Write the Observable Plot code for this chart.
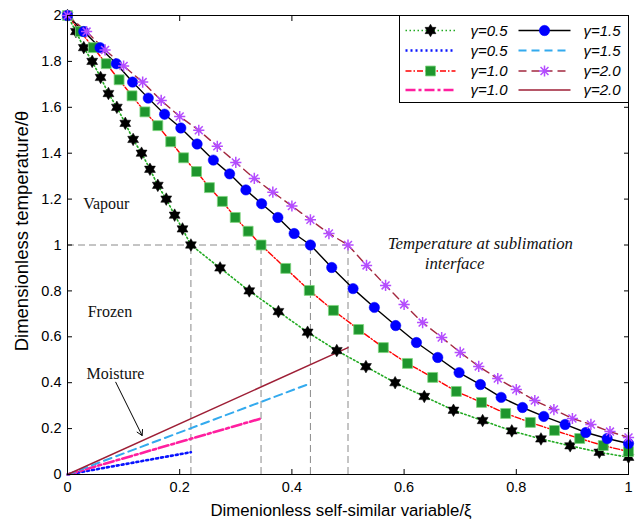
<!DOCTYPE html>
<html>
<head>
<meta charset="utf-8">
<script src="https://cdn.jsdelivr.net/npm/d3@7"></script>
<script src="https://cdn.jsdelivr.net/npm/@observablehq/plot@0.6"></script>
<style>
  body { margin: 0; background: #fff; }
  #wrap { position: relative; width: 636px; height: 522px; }
</style>
</head>
<body>
<div id="wrap"></div>
<script>
// ---- data ----
const gammas = ["0.5", "1.0", "1.5", "2.0"];

const xi05 = [0, 0.015, 0.029, 0.044, 0.059, 0.073, 0.088, 0.103, 0.117, 0.132, 0.147, 0.161, 0.176, 0.191, 0.205, 0.22,
              0.272, 0.324, 0.376, 0.428, 0.48, 0.532, 0.584, 0.636, 0.688, 0.74, 0.792, 0.844, 0.896, 0.948, 1.0];
const th05 = [2.0, 1.93, 1.86, 1.80, 1.73, 1.66, 1.60, 1.53, 1.46, 1.40, 1.33, 1.26, 1.20, 1.13, 1.07, 1.0,
              0.90, 0.80, 0.71, 0.62, 0.54, 0.47, 0.40, 0.34, 0.28, 0.235, 0.19, 0.155, 0.125, 0.097, 0.075];

const xi10 = [0, 0.023, 0.046, 0.069, 0.092, 0.115, 0.138, 0.161, 0.184, 0.207, 0.23, 0.253, 0.276, 0.299, 0.322, 0.345,
              0.389, 0.431, 0.474, 0.519, 0.563, 0.606, 0.651, 0.693, 0.738, 0.781, 0.825, 0.868, 0.913, 0.955, 1.0];
const th10 = [2.0, 1.93, 1.86, 1.79, 1.72, 1.65, 1.58, 1.52, 1.45, 1.38, 1.32, 1.25, 1.19, 1.12, 1.06, 1.0,
              0.898, 0.802, 0.715, 0.632, 0.553, 0.484, 0.423, 0.362, 0.314, 0.266, 0.227, 0.192, 0.157, 0.126, 0.100];

const xi15 = [0, 0.029, 0.058, 0.087, 0.116, 0.144, 0.173, 0.202, 0.231, 0.26, 0.289, 0.318, 0.346, 0.375, 0.404, 0.433,
              0.471, 0.509, 0.547, 0.585, 0.622, 0.660, 0.698, 0.736, 0.773, 0.811, 0.849, 0.887, 0.924, 0.962, 1.0];
const th15 = [2.0, 1.93, 1.86, 1.79, 1.71, 1.64, 1.57, 1.51, 1.44, 1.37, 1.31, 1.24, 1.18, 1.12, 1.05, 1.0,
              0.902, 0.810, 0.728, 0.649, 0.575, 0.510, 0.444, 0.392, 0.336, 0.292, 0.253, 0.218, 0.183, 0.157, 0.135];

const xi20 = [0, 0.034, 0.067, 0.1, 0.134, 0.167, 0.2, 0.234, 0.267, 0.3, 0.333, 0.366, 0.4, 0.433, 0.466, 0.5,
              0.533, 0.567, 0.6, 0.633, 0.667, 0.7, 0.733, 0.767, 0.8, 0.833, 0.867, 0.9, 0.933, 0.967, 1.0];
const th20 = [2.0, 1.93, 1.85, 1.78, 1.71, 1.63, 1.56, 1.50, 1.43, 1.36, 1.29, 1.23, 1.17, 1.11, 1.05, 1.0,
              0.911, 0.824, 0.741, 0.662, 0.597, 0.532, 0.471, 0.418, 0.370, 0.322, 0.283, 0.244, 0.218, 0.187, 0.161];

// sublimation interface position and moisture value at the interface
const interfaceXi = [0.22, 0.345, 0.433, 0.5];
const interfaceTheta = [1, 1, 1, 1];
const moistureEnd = [0.097, 0.244, 0.397, 0.553];

const xTicks = [0, 0.2, 0.4, 0.6, 0.8, 1];
const yTicks = [0, 0.2, 0.4, 0.6, 0.8, 1, 1.2, 1.4, 1.6, 1.8, 2];

const annotations = [
  {text: "Vapour", xi: 0.028, theta: 1.18, italic: false},
  {text: "Frozen", xi: 0.036, theta: 0.71, italic: false},
  {text: "Moisture", xi: 0.034, theta: 0.44, italic: false},
  {text: "Temperature at sublimation", xi: 0.736, theta: 1.007, italic: true},
  {text: "interface", xi: 0.69, theta: 0.92, italic: true}
];
const moistureArrow = [{x1: 0.086, y1: 0.402, x2: 0.133, y2: 0.170}];

// ---- build tables ----
const tempXi = [xi05, xi10, xi15, xi20];
const tempTh = [th05, th10, th15, th20];
const temp = gammas.map((g, k) => tempXi[k].map((x, i) => ({g, xi: x, th: tempTh[k][i]})));
const moisture = gammas.map((g, k) => [{g, xi: 0, th: 0}, {g, xi: interfaceXi[k], th: moistureEnd[k]}]);
const iface = gammas.map((g, k) => ({g, xi: interfaceXi[k], th: interfaceTheta[k]}));

// ---- custom symbols ----
const hexagram = {
  draw(ctx, size) {
    const r = Math.sqrt(size / Math.PI), ri = r / Math.sqrt(3);
    for (let k = 0; k < 12; k++) {
      const a = -Math.PI / 2 + k * Math.PI / 6, rr = k % 2 ? ri : r;
      const x = rr * Math.cos(a), y = rr * Math.sin(a);
      if (k) ctx.lineTo(x, y); else ctx.moveTo(x, y);
    }
    ctx.closePath();
  }
};
const asterisk8 = {
  draw(ctx, size) {
    const r = Math.sqrt(size / Math.PI);
    for (let k = 0; k < 4; k++) {
      const a = k * Math.PI / 4;
      ctx.moveTo(r * Math.cos(a), r * Math.sin(a));
      ctx.lineTo(-r * Math.cos(a), -r * Math.sin(a));
    }
  }
};

// styles per gamma
const tempLine = [
  {stroke: "#22aa22", strokeWidth: 1.6, strokeDasharray: "1.5,2.5"},
  {stroke: "#ff0000", strokeWidth: 1.4, strokeDasharray: "6,2,1.5,2"},
  {stroke: "#000000", strokeWidth: 1.4, strokeDasharray: null},
  {stroke: "#a3283f", strokeWidth: 1.4, strokeDasharray: "8,5"}
];
const tempDot = [
  {symbol: hexagram, r: 6.3, fill: "#000000", stroke: "#000000", strokeWidth: 0.5},
  {symbol: "square", r: 5.6, fill: "#1e962d", stroke: "#7fd67f", strokeWidth: 0.8},
  {symbol: "circle", r: 5.2, fill: "#0000ff", stroke: "#0000ff", strokeWidth: 0.5},
  {symbol: asterisk8, r: 5.6, fill: "none", stroke: "#b44dff", strokeWidth: 1.5}
];
const moistLine = [
  {stroke: "#0a14ff", strokeWidth: 2.6, strokeDasharray: "2,3"},
  {stroke: "#ff1f9f", strokeWidth: 2.6, strokeDasharray: "10,3,3,3"},
  {stroke: "#33aaee", strokeWidth: 2, strokeDasharray: "8,5"},
  {stroke: "#9e1f36", strokeWidth: 1.5, strokeDasharray: null}
];

const sans = "'Liberation Sans', Arial, Helvetica, sans-serif";
const serif = "'Liberation Serif', 'Times New Roman', serif";

const marks = [
  // reference dashed lines at the sublimation interface
  Plot.ruleX(iface, {x: "xi", y1: 0, y2: "th", stroke: "#8a8a8a", strokeWidth: 1, strokeDasharray: "7,4"}),
  Plot.ruleY([d3.max(interfaceTheta)], {y: d => d, x1: 0, x2: d3.max(interfaceXi), stroke: "#8a8a8a", strokeWidth: 1, strokeDasharray: "7,4"}),
  // moisture lines
  ...moisture.map((m, k) => Plot.line(m, {x: "xi", y: "th", ...moistLine[k]})),
  // temperature lines
  ...temp.map((t, k) => Plot.line(t, {x: "xi", y: "th", ...tempLine[k]})),
  // markers
  ...temp.map((t, k) => Plot.dot(t, {x: "xi", y: "th", ...tempDot[k]})),
  // annotations
  Plot.text(annotations.filter(a => !a.italic), {x: "xi", y: "theta", text: "text", textAnchor: "start", fontFamily: serif, fontSize: 16, fill: "#111"}),
  Plot.text(annotations.filter(a => a.italic), {x: "xi", y: "theta", text: "text", textAnchor: "middle", fontFamily: serif, fontSize: 16.8, fontStyle: "italic", fill: "#111"}),
  Plot.arrow(moistureArrow, {x1: "x1", y1: "y1", x2: "x2", y2: "y2", stroke: "#000", strokeWidth: 1, headLength: 9, bend: 0}),
  Plot.frame({stroke: "#000", strokeWidth: 1}),
  // ticks (flipped inward afterwards)
  Plot.axisX({ticks: xTicks, anchor: "bottom", tickSize: 5, tickFormat: () => "", label: null}),
  Plot.axisX({ticks: xTicks, anchor: "top", tickSize: 5, tickFormat: () => "", label: null}),
  Plot.axisY({ticks: yTicks, anchor: "left", tickSize: 5, tickFormat: () => "", label: null}),
  Plot.axisY({ticks: yTicks, anchor: "right", tickSize: 5, tickFormat: () => "", label: null}),
  // tick labels
  Plot.axisX({ticks: xTicks, anchor: "bottom", tickSize: 0, tickPadding: 7, tickFormat: d => String(d), label: null, fontSize: 14.5, fill: "#000"}),
  Plot.axisY({ticks: yTicks, anchor: "left", tickSize: 0, tickPadding: 6, tickFormat: d => String(d), label: null, fontSize: 14.5, fill: "#000"}),
  // axis titles
  Plot.text(["Dimenionless self-similar variable/ξ"], {frameAnchor: "bottom", text: d => d, textAnchor: "middle", dy: 41, dx: -7, fontSize: 16.8, fontFamily: sans, fill: "#000"}),
  Plot.text(["Dimensionless temperature/θ"], {frameAnchor: "left", text: d => d, textAnchor: "middle", rotate: -90, dx: -45, dy: -14, fontSize: 18.5, fontFamily: sans, fill: "#000"})
];

const chart = Plot.plot({
  width: 636,
  height: 522,
  marginTop: 15,
  marginRight: 8,
  marginBottom: 48,
  marginLeft: 67,
  x: {domain: [0, 1]},
  y: {domain: [0, 2]},
  style: {fontFamily: sans, fontSize: "14px", background: "#fff", color: "#000", overflow: "visible"},
  marks
});

// flip axis ticks so they point inward (MATLAB style)
const svg = d3.select(chart);
svg.selectAll('g[aria-label="x-axis tick"] path').each(function () {
  this.setAttribute("transform", (this.getAttribute("transform") || "") + " scale(1,-1)");
});
svg.selectAll('g[aria-label="y-axis tick"] path').each(function () {
  this.setAttribute("transform", (this.getAttribute("transform") || "") + " scale(-1,1)");
});

// ---- legend (drawn inside the same svg, top-right corner of the frame) ----
const legendRows = [
  [{g: "0.5", line: tempLine[0], dot: tempDot[0]}, {g: "1.5", line: tempLine[2], dot: tempDot[2]}],
  [{g: "0.5", line: moistLine[0]}, {g: "1.5", line: moistLine[2]}],
  [{g: "1.0", line: tempLine[1], dot: tempDot[1]}, {g: "2.0", line: tempLine[3], dot: tempDot[3]}],
  [{g: "1.0", line: moistLine[1]}, {g: "2.0", line: moistLine[3]}]
];
const lg = svg.append("g").attr("transform", "translate(399.5,15.5)").attr("text-anchor", "start");
lg.append("rect").attr("width", 229).attr("height", 87).attr("fill", "#fff").attr("stroke", "#000").attr("stroke-width", 1);
const rowY = [15, 35, 55.5, 74.5];
const colX = [{x0: 6, x1: 56, tx: 71}, {x0: 119, x1: 171, tx: 184}];
const symType = s => s === "square" ? d3.symbolSquare : s === "circle" ? d3.symbolCircle : s;
legendRows.forEach((row, r) => {
  row.forEach((e, c) => {
    const y = rowY[r], cx = colX[c];
    lg.append("line").attr("x1", cx.x0).attr("x2", cx.x1).attr("y1", y).attr("y2", y)
      .attr("stroke", e.line.stroke).attr("stroke-width", e.line.strokeWidth)
      .attr("stroke-dasharray", e.line.strokeDasharray);
    if (e.dot) {
      const d = e.dot;
      lg.append("path")
        .attr("d", d3.symbol().type(symType(d.symbol)).size(d.r * d.r * Math.PI)())
        .attr("transform", `translate(${(cx.x0 + cx.x1) / 2},${y})`)
        .attr("fill", d.fill).attr("stroke", d.stroke).attr("stroke-width", d.strokeWidth);
    }
    lg.append("text").attr("x", cx.tx).attr("y", y).attr("dy", "0.35em").attr("text-anchor", "start")
      .attr("font-family", sans).attr("font-style", "italic").attr("font-size", 15).attr("fill", "#000")
      .text("γ=" + e.g);
  });
});

document.getElementById("wrap").appendChild(chart);
</script>
</body>
</html>
